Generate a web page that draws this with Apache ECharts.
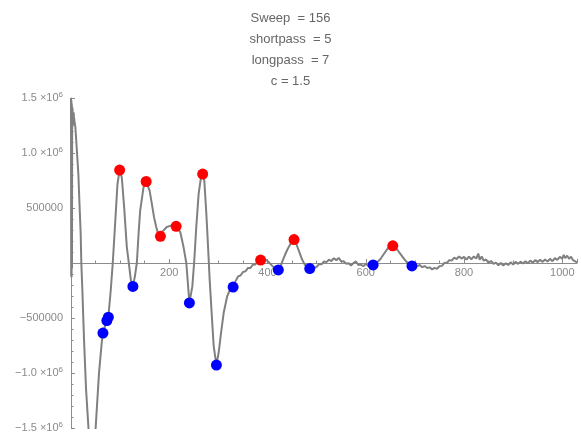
<!DOCTYPE html>
<html>
<head>
<meta charset="utf-8">
<script src="https://cdn.jsdelivr.net/npm/echarts@6/dist/echarts.min.js"></script>
<style>
  html, body { margin: 0; padding: 0; background: #fff; }
  #chart { width: 581px; height: 436px; }
</style>
</head>
<body>
<div id="chart"></div>
<script>
// Plot header lines
const headerLines = ['Sweep  = 156', 'shortpass  = 5', 'longpass  = 7', 'c = 1.5'];

// Filtered trace (sample index, amplitude)
const traceX = [
  0, 0.4, 0.8, 1.2, 1.6, 2.0, 2.4, 2.8, 3.2, 3.6, 4.0, 4.6, 5.2, 6, 7, 8.8, 11.6, 15, 17, 19.7,
  21, 23.1, 26.5, 30.6, 35.4, 39, 43, 47, 50.3, 57.1, 62.6, 65, 68, 73, 76, 81,
  85, 89.8, 94.6, 99, 103.4, 108.2, 113.6, 117.7, 121.8, 126, 130, 134, 138, 140.8,
  147.6, 153, 160, 164.6, 169, 173.5, 178, 182, 187, 195, 205, 214, 218, 222.4,
  229, 234.7, 237.4, 241, 247, 251, 255, 259.8, 264, 268, 271.4, 275.5, 279, 282.3,
  286.3, 290.4, 296, 300.6, 305.5, 310.8, 317.8, 323, 330,
  335, 340, 345, 350, 355, 360, 365, 370, 375, 380, 386, 390, 395, 400, 405, 410, 415, 422,
  426, 430, 435, 440, 445, 450, 454, 458, 462, 466, 470, 475, 480, 486, 490, 495, 500,
  505, 510, 515, 520, 525, 530, 535, 540, 545, 550, 555, 560, 565, 570, 575, 580, 585,
  590, 595, 600, 605, 610, 615, 620, 625, 630, 635, 640, 645, 650, 655, 660, 665, 670,
  675, 680, 685, 690, 694, 700, 705, 710, 715, 720, 725, 730, 735, 740, 745, 750, 755,
  760, 765, 770, 775, 780, 785, 790, 795, 800, 805, 810, 815, 820, 825, 829, 832, 836,
  840, 845, 850, 855, 860, 865, 870, 875, 880, 885, 890, 895, 900, 905, 910, 915, 920,
  925, 930, 935, 940, 945, 950, 955, 960, 965, 970, 975, 980, 985, 990, 995, 1000, 1003,
  1006, 1010, 1014, 1018, 1022, 1026, 1030
];
const traceY = [
  1500000, -120000, 1480000, -130000, 1450000, -50000, 1420000, 1360000, 1400000, 1240000,
  1370000, 1260000, 1370000, 1330000, 1290000, 1240000, 1048000, 808000, 568000, 268000,
  0, -243000, -694000, -1144000, -1489000, -1720000, -1800000, -1700000, -1489000, -994000,
  -723000, -637000, -590000, -523000, -493000, -243000,
  0, 357000, 718000, 845000, 778000, 507000, 147000, 0, -153000, -213000, -123000, 0, 297000, 477000,
  688000, 741000, 658000, 538000, 417000, 327000, 252000, 243000, 290000, 327000, 342000, 333000, 315000, 282000,
  147000, 0, -153000, -363000, -213000, 27000, 327000, 628000, 760000, 808000, 748000, 448000, 147000, -153000,
  -453000, -754000, -928000, -814000, -634000, -453000, -304000, -250000, -219000,
  -165000, -122000, -114000, -82000, -76000, -46000, -46000, -16000, -14000, 14000, 27000, 38000, 33000, 18000, -4000, -28000, -48000, -63000,
  -40000, 12000, 68000, 118000, 160000, 196000, 213000, 182000, 132000, 85000, 36000, -8000, -38000, -51000, -55000, -44000, -36000,
  -10000, -12000, 14000, 8000, 30000, 18000, 44000, 26000, 46000, 14000, 16000, -6000, -2000, -22000, 0, 14000, -18000,
  -14000, -30000, -8000, -28000, -10000, -18000, -4000, 14000, 36000, 70000, 102000, 134000, 150000, 156000, 142000, 116000, 86000,
  56000, 26000, 2000, -16000, -27000, -14000, -28000, -18000, -38000, -28000, -46000, -40000, -58000, -44000, -54000, -30000, -26000,
  2000, 0, 26000, 22000, 48000, 36000, 60000, 40000, 56000, 30000, 58000, 34000, 60000, 40000, 86000, 30000, 60000,
  22000, 32000, 2000, 18000, -8000, 4000, -20000, 0, -22000, -2000, -18000, 6000, -14000, 10000, -8000, 12000, -4000,
  16000, -2000, 22000, 2000, 26000, 8000, 30000, 10000, 32000, 14000, 38000, 16000, 44000, 28000, 56000, 40000, 74000,
  44000, 66000, 38000, 58000, 26000, 30000, 6000
];

// Detected maxima (red) and minima (blue)
const peakX = [99, 153, 182, 214, 268, 386, 454, 655];
const peakY = [845000, 741000, 243000, 333000, 808000, 27000, 213000, 156000];
const troughX = [65, 73, 76, 126, 241, 296, 330, 422, 486, 615, 694];
const troughY = [-637000, -523000, -493000, -213000, -363000, -928000, -219000, -63000, -51000, -18000, -27000];

// Axis ticks
const xTickValues = [200, 400, 600, 800, 1000];
const yTickValues = [-1500000, -1000000, -500000, 500000, 1000000, 1500000];
const yTickTexts = ['{m|−1.5 ×10}{e|6}', '{m|−1.0 ×10}{e|6}', '{m|−500000}', '{m|500000}', '{m|1.0 ×10}{e|6}', '{m|1.5 ×10}{e|6}'];

const zip = (xs, ys) => xs.map((x, i) => [x, ys[i]]);

const FONT = '"Liberation Sans", Arial, sans-serif';
const axisGray = '#8c8c8c';
const labelGray = '#8a8a8a';

const GRID_TOP = 98;
const GRID_BOTTOM = 8;
const GRID_HEIGHT = 436 - GRID_TOP - GRID_BOTTOM;

const chart = echarts.init(document.getElementById('chart'), null, { renderer: 'canvas' });

chart.setOption({
  animation: false,
  backgroundColor: '#ffffff',
  title: headerLines.map((t, i) => ({
    text: t,
    left: 'center',
    top: 12 + i * 21,
    padding: 0,
    textStyle: { fontFamily: FONT, fontSize: 13, fontWeight: 'normal', color: '#666666' }
  })),
  grid: {
    left: 71, right: 4, top: GRID_TOP, bottom: GRID_BOTTOM,
    containLabel: false,
    outerBoundsMode: 'none'
  },
  xAxis: {
    type: 'value',
    min: 0,
    max: 1030,
    interval: 200,
    position: 'bottom',
    // the y range is symmetric, so the zero line sits halfway up the grid
    offset: -GRID_HEIGHT / 2,
    axisLine: { onZero: false, lineStyle: { color: axisGray, width: 1 } },
    axisTick: { inside: true, length: 4, lineStyle: { color: axisGray } },
    minorTick: { show: true, splitNumber: 4, length: 2.5, lineStyle: { color: axisGray } },
    splitLine: { show: false },
    axisLabel: {
      margin: 4,
      color: labelGray,
      fontFamily: FONT,
      fontSize: 11,
      formatter: v => (xTickValues.includes(v) ? String(v) : '')
    }
  },
  yAxis: {
    type: 'value',
    min: -1500000,
    max: 1500000,
    interval: 500000,
    axisLine: { onZero: false, lineStyle: { color: axisGray, width: 1 } },
    axisTick: { inside: true, length: 4, lineStyle: { color: axisGray } },
    minorTick: { show: true, splitNumber: 5, length: 2.5, lineStyle: { color: axisGray } },
    splitLine: { show: false },
    axisLabel: {
      margin: 8,
      color: labelGray,
      fontFamily: FONT,
      fontSize: 11,
      formatter: v => {
        const k = yTickValues.indexOf(v);
        return k < 0 ? '' : yTickTexts[k];
      },
      rich: {
        m: { fontFamily: FONT, fontSize: 11, color: labelGray },
        e: { fontFamily: FONT, fontSize: 8, color: labelGray, padding: [0, 0, 7, 0] }
      }
    }
  },
  series: [
    {
      type: 'line',
      data: zip(traceX, traceY),
      showSymbol: false,
      clip: true,
      lineStyle: { color: '#808080', width: 2 },
      z: 2
    },
    {
      type: 'scatter',
      data: zip(peakX, peakY),
      symbolSize: 11,
      itemStyle: { color: '#ff0000', opacity: 1 },
      z: 3
    },
    {
      type: 'scatter',
      data: zip(troughX, troughY),
      symbolSize: 11,
      itemStyle: { color: '#0000ff', opacity: 1 },
      z: 3
    }
  ]
});
</script>
</body>
</html>
